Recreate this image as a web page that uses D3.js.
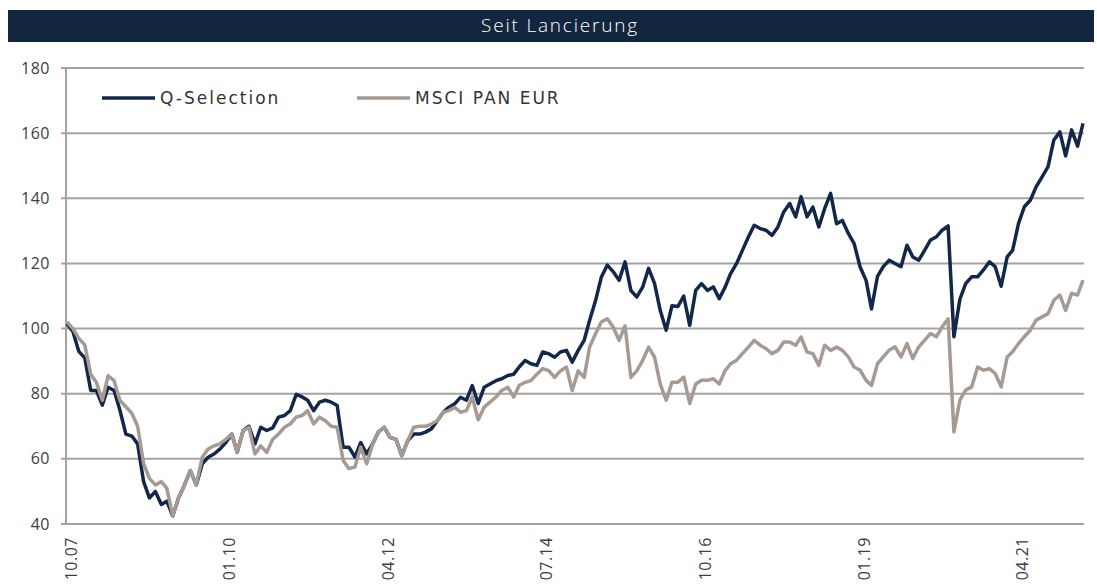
<!DOCTYPE html>
<html>
<head>
<meta charset="utf-8">
<script src="https://cdn.jsdelivr.net/npm/d3@7"></script>
<style>
    body { margin: 0; background: #fff; }
    text { font-family: "DejaVu Sans", "Open Sans", sans-serif; }
</style>
</head>
<body>
<script>
(function(){

//monthly values, first month is 10.2007
var startMonth = "10.07";
var seriesNames = ["Q-Selection", "MSCI PAN EUR"];
var seriesColors = ["#11284a", "#a69a93"];

var qSelection = [
    101.5, 99, 93, 91, 81, 81, 76.5, 82, 81, 75,
    67.6, 67, 64.6, 53, 48, 50, 46, 47, 42.5, 48,
    52, 56.4, 52, 58.5, 60.5, 61.5, 63, 65, 67.6, 62,
    68.7, 70, 64.6, 69.7, 68.7, 69.5, 72.8, 73.3, 74.8, 79.8,
    79, 78, 74.8, 77.4, 78, 77.4, 76.4, 63.6, 63.6, 60.5,
    65, 61.5, 64.6, 68.2, 69.7, 66.6, 66, 61, 65.6, 67.6,
    67.6, 68.2, 69.2, 71.7, 74.3, 75.8, 76.9, 78.9, 78, 82.5,
    77, 82, 83, 84, 84.6, 85.6, 86, 88.2, 90.2, 89.2,
    88.7, 92.8, 92.3, 91.2, 92.8, 93.3, 89.7, 93.3, 96.4, 102.5,
    108.6, 115.8, 119.5, 117.5, 114.8, 120.5, 111.7, 109.7, 112.7, 118.5,
    113.8, 105.6, 99.5, 107, 106.8, 110, 101, 111.7, 113.8, 111.7,
    112.8, 109.2, 112.8, 116.9, 120, 124, 128.1, 131.7, 130.7, 130.2,
    128.6, 131.2, 135.8, 138.4, 134.3, 140.5, 134.3, 137.3, 131.2, 136.8,
    141.5, 132.2, 133.2, 129.2, 126.1, 118.9, 114.8, 106, 116, 119,
    121, 120, 119, 125.6, 122, 121, 124, 127.2, 128.2, 130.2,
    131.5, 97.5, 109, 113.8, 115.9, 115.9, 118, 120.5, 119, 113,
    122, 124, 132.3, 137.4, 139.4, 143.5, 146.6, 149.7, 157.9, 160.4,
    153, 161, 156, 163
];

var msciPanEur = [
    102, 100, 97, 95, 86, 83.5, 78, 85.5, 84, 78,
    76, 74, 70, 58.5, 54, 52, 53, 51, 42.5, 48,
    52, 56.4, 52, 60.5, 63, 64, 64.6, 66, 67.6, 62,
    68.7, 69.7, 61.5, 64, 62, 66, 67.6, 69.7, 70.7, 72.8,
    73.3, 74.8, 70.7, 72.8, 71.7, 70, 69.7, 59.5, 57, 57.5,
    63.6, 58.5, 64.6, 68.2, 69.7, 66.6, 66, 61, 65.6, 69.7,
    70, 70, 70.7, 71.7, 74.3, 74.8, 75.8, 74.3, 74.8, 79,
    72, 75.9, 77.4, 79, 81, 82, 79, 82.5, 83.5, 84,
    86, 87.7, 87.1, 85, 87, 88.2, 81, 87, 85, 94.3,
    98.4, 102, 103, 100.5, 96.4, 100.8, 85, 87, 90.2, 94.3,
    91.2, 83, 78, 83.5, 83.5, 85.1, 77, 83, 84.1, 84.1,
    84.6, 83, 87.2, 89.2, 90.3, 92.3, 94.3, 96.4, 94.9, 93.8,
    92.3, 93.3, 95.9, 95.9, 94.9, 97.4, 92.8, 92.3, 88.7, 94.9,
    93.3, 94.3, 93.3, 91.3, 88.2, 87.2, 84.1, 82.5, 89.2, 91.3,
    93.4, 94.4, 91.3, 95.4, 90.8, 94.4, 96.4, 98.5, 97.5, 100.5,
    103, 68.3, 78, 81.1, 82.1, 88.2, 87.2, 87.7, 86.2, 82.1,
    91.3, 92.9, 95.4, 97.5, 99.5, 102.6, 103.6, 104.6, 108.7, 110.3,
    105.6, 110.8, 110.3, 114.9
];

var xTickLabels = ["10.07", "01.10", "04.12", "07.14", "10.16", "01.19", "04.21"];
var yTicks = [40, 60, 80, 100, 120, 140, 160, 180];
var title = "Seit Lancierung";

window.onload = setChart();

function setChart(){
    var width = 1097,
        height = 585;

    var svg = d3.select("body")
        .append("svg")
        .attr("width", width)
        .attr("height", height);

    //title bar
    svg.append("rect")
        .attr("x", 8)
        .attr("y", 10)
        .attr("width", 1086)
        .attr("height", 32)
        .style("fill", "#13263f");

    svg.append("text")
        .attr("x", 560)
        .attr("y", 32)
        .attr("text-anchor", "middle")
        .style("font-family", "'Open Sans', sans-serif")
        .style("font-size", "19px")
        .style("font-weight", 300)
        .style("letter-spacing", "1.8px")
        .style("fill", "#fff")
        .text(title);

    var parseMonth = d3.timeParse("%m.%y");
    var start = parseMonth(startMonth);
    var dates = qSelection.map(function(d, i){
        return d3.timeMonth.offset(start, i);
    });

    var x = d3.scaleTime()
        .domain([dates[0], dates[dates.length - 1]])
        .range([67, 1083]);

    var y = d3.scaleLinear()
        .domain([40, 180])
        .range([524, 68]);

    //gridlines
    svg.append("g")
        .selectAll("line")
        .data(yTicks)
        .enter()
        .append("line")
        .attr("x1", 61)
        .attr("x2", 1084)
        .attr("y1", function(d){ return y(d); })
        .attr("y2", function(d){ return y(d); })
        .style("stroke", "#a3a3a3")
        .style("stroke-width", 2);

    //y axis line
    svg.append("line")
        .attr("x1", 66)
        .attr("x2", 66)
        .attr("y1", y(180))
        .attr("y2", y(40))
        .style("stroke", "#a3a3a3")
        .style("stroke-width", 2);

    //y labels
    svg.append("g")
        .selectAll("text")
        .data(yTicks)
        .enter()
        .append("text")
        .attr("x", 50)
        .attr("y", function(d){ return y(d); })
        .attr("dy", "0.35em")
        .attr("text-anchor", "end")
        .style("font-family", "'Open Sans', sans-serif")
        .style("font-size", "16px")
        .style("letter-spacing", "0.5px")
        .style("fill", "#404040")
        .text(function(d){ return d; });

    //x labels, rotated
    svg.append("g")
        .selectAll("text")
        .data(xTickLabels)
        .enter()
        .append("text")
        .attr("transform", function(d){
            return "translate(" + (x(parseMonth(d)) + 4) + ",537) rotate(-90)";
        })
        .attr("dy", "0.35em")
        .attr("text-anchor", "end")
        .style("font-family", "'Open Sans', sans-serif")
        .style("font-size", "16px")
        .style("letter-spacing", "0.5px")
        .style("fill", "#404040")
        .text(function(d){ return d; });

    //lines
    var line = d3.line()
        .x(function(d){ return x(d.date); })
        .y(function(d){ return y(d.value); });

    var allSeries = [qSelection, msciPanEur];
    allSeries.forEach(function(values, k){
        var pts = values.map(function(v, i){ return {date: dates[i], value: v}; });
        svg.append("path")
            .datum(pts)
            .attr("d", line)
            .style("fill", "none")
            .style("stroke", seriesColors[k])
            .style("stroke-width", 3.5)
            .style("stroke-linejoin", "round");
    });

    //legend
    var legendX = [102, 357];
    seriesNames.forEach(function(name, k){
        svg.append("line")
            .attr("x1", legendX[k])
            .attr("x2", legendX[k] + 53)
            .attr("y1", 98)
            .attr("y2", 98)
            .style("stroke", seriesColors[k])
            .style("stroke-width", 3.5);
        svg.append("text")
            .attr("x", legendX[k] + 58)
            .attr("y", 98)
            .attr("dy", "0.35em")
            .style("font-size", "17px")
            .style("letter-spacing", "2px")
            .style("fill", "#333")
            .text(name);
    });
};

})();
</script>
</body>
</html>
